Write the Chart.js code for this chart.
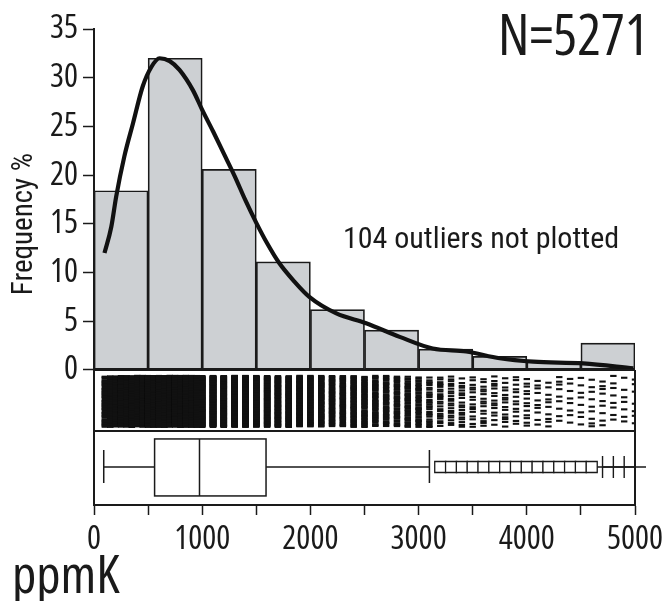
<!DOCTYPE html>
<html>
<head>
<meta charset="utf-8">
<script src="https://cdn.jsdelivr.net/npm/chart.js@4.4.1/dist/chart.umd.min.js"></script>
<style>
  html, body { margin: 0; padding: 0; background: #fff; }
  canvas { display: block; }
</style>
</head>
<body>
<canvas id="chart" width="669" height="601"></canvas>
<script>
// Histogram of K (ppm), 500 ppm bins, frequency in percent
const binCenters = [250, 750, 1250, 1750, 2250, 2750, 3250, 3750, 4250, 4750];
const binFreq = [18.4, 32.0, 20.6, 11.1, 6.2, 4.1, 2.15, 1.4, 0.85, 2.75];

// Density estimate drawn over the histogram
const densX = [97, 160, 205, 280, 360, 450, 530, 606, 700, 790, 915, 1000, 1100, 1200, 1300, 1400, 1500, 1600, 1710, 1850, 1990, 2240, 2515, 2825, 3130, 3440, 3750, 4060, 4520, 4985];
const densY = [12.0, 14.7, 17.8, 21.9, 25.3, 29.1, 31.1, 32.0, 31.7, 30.8, 28.7, 26.7, 24.5, 22.2, 19.9, 17.4, 15.1, 13.0, 11.0, 9.1, 7.5, 5.8, 4.8, 3.4, 2.2, 1.9, 1.2, 0.85, 0.68, 0.17];

// One-dimensional scatter: reported values and number of samples at each
const rugValues = [100, 150, 200, 250, 300, 350, 400, 450, 500,
  550, 600, 650, 700, 750, 800, 850, 900, 950, 1000,
  1100, 1200, 1300, 1400, 1500, 1600, 1700, 1800, 1900, 2000,
  2100, 2200, 2300, 2400, 2500, 2600, 2700, 2800, 2900, 3000,
  3100, 3200, 3300, 3400, 3500, 3600, 3700, 3800, 3900, 4000,
  4100, 4200, 4300, 4400, 4500, 4600, 4700, 4800, 4900, 5000];
const rugCounts = [50, 70, 85, 100, 110, 120, 130, 140, 165,
  175, 180, 180, 178, 175, 170, 165, 160, 155, 149,
  270, 240, 215, 195, 166, 150, 130, 115, 100, 90,
  80, 72, 63, 58, 54, 50, 46, 43, 40, 37,
  28, 24, 21, 19, 16, 16, 15, 15, 13, 13,
  10, 10, 9, 8, 8, 9, 9, 8, 7, 7];

// Boxplot statistics (ppm)
const boxStats = [90, 560, 975, 1590, 3100]; // lower whisker, Q1, median, Q3, upper whisker
const nearOutliers = [3200, 3300, 3400, 3500, 3600, 3700, 3800, 3900, 4000, 4100, 4200, 4300, 4400, 4500, 4600];
const farOutliers = [4700, 4800, 4900, 5000];

// Axis ticks
const xTickValues = [0, 500, 1000, 1500, 2000, 2500, 3000, 3500, 4000, 4500, 5000];
const yTickValues = [0, 5, 10, 15, 20, 25, 30, 35];

const FAMILY = '"Open Sans", "Roboto Condensed", sans-serif';
const LABEL_FAMILY = '"Roboto Condensed", "Open Sans", sans-serif';
const STRETCH = 'condensed';
const font = px => STRETCH + ' ' + px + 'px ' + FAMILY;
const labelFont = px => px + 'px ' + LABEL_FAMILY;
const INK = '#1a1a1a';

// vertical layout of the lower panels, in frequency units below zero
const Y_MIN = -13.86;
const RUG_TOP = -0.6, RUG_BOTTOM = -5.85, PANEL_DIVIDER = -6.26;
const BOX_TOP = -7.08, BOX_BOTTOM = -12.93, BOX_MID = -9.96, CAP_TOP = -8.21, CAP_BOTTOM = -11.6;

// rug marks: one dash per sample, spread over the strip height
const rugPoints = [];
rugValues.forEach((v, c) => {
  for (let k = 0; k < rugCounts[c]; k++) {
    const t = ((k + 0.5) * 0.6180339887 + c * 0.2718) % 1;
    rugPoints.push({ x: v, y: RUG_TOP + t * (RUG_BOTTOM - RUG_TOP) });
  }
});

const panels = {
  id: 'panels',
  beforeDatasetsDraw(chart) {
    const { ctx, scales: { x, y } } = chart;
    const px = v => x.getPixelForValue(v);
    const py = v => y.getPixelForValue(v);
    const [lo, q1, med, q3, hi] = boxStats;
    ctx.save();
    ctx.strokeStyle = INK;
    ctx.lineWidth = 1.5;
    // whiskers
    ctx.beginPath();
    ctx.moveTo(px(lo), py(BOX_MID)); ctx.lineTo(px(q1), py(BOX_MID));
    ctx.moveTo(px(q3), py(BOX_MID)); ctx.lineTo(px(hi), py(BOX_MID));
    ctx.moveTo(px(lo), py(CAP_TOP)); ctx.lineTo(px(lo), py(CAP_BOTTOM));
    ctx.moveTo(px(hi), py(CAP_TOP)); ctx.lineTo(px(hi), py(CAP_BOTTOM));
    ctx.stroke();
    // box and median
    ctx.fillStyle = '#fff';
    ctx.fillRect(px(q1), py(BOX_TOP), px(q3) - px(q1), py(BOX_BOTTOM) - py(BOX_TOP));
    ctx.strokeRect(px(q1), py(BOX_TOP), px(q3) - px(q1), py(BOX_BOTTOM) - py(BOX_TOP));
    ctx.beginPath();
    ctx.moveTo(px(med), py(BOX_TOP)); ctx.lineTo(px(med), py(BOX_BOTTOM));
    ctx.stroke();
    ctx.restore();
  },
  afterDatasetsDraw(chart) {
    const { ctx, scales: { x, y } } = chart;
    const l = x.getPixelForValue(0), r = x.getPixelForValue(5000);
    ctx.save();
    ctx.strokeStyle = INK;
    ctx.lineWidth = 2;
    ctx.beginPath();
    ctx.moveTo(l, y.getPixelForValue(0)); ctx.lineTo(r, y.getPixelForValue(0));
    ctx.moveTo(l, y.getPixelForValue(PANEL_DIVIDER)); ctx.lineTo(r, y.getPixelForValue(PANEL_DIVIDER));
    ctx.moveTo(r, y.getPixelForValue(0)); ctx.lineTo(r, y.getPixelForValue(Y_MIN));
    ctx.stroke();
    ctx.restore();
  },
  afterDraw(chart) {
    const { ctx } = chart;
    ctx.save();
    ctx.fillStyle = INK;
    ctx.textBaseline = 'alphabetic';
    ctx.textAlign = 'left';
    ctx.font = font(56);
    ctx.fillText('N=5271', 498, 55);
    ctx.font = labelFont(30);
    ctx.fillText('104 outliers not plotted', 343, 248);
    ctx.font = font(53);
    ctx.fillText('ppmK', 12, 593);
    ctx.translate(32, 224);
    ctx.rotate(-Math.PI / 2);
    ctx.textAlign = 'center';
    ctx.font = labelFont(29);
    ctx.fillText('Frequency %', 0, 0);
    ctx.restore();
  }
};

new Chart(document.getElementById('chart'), {
  type: 'bar',
  data: {
    datasets: [
      {
        type: 'line',
        data: densX.map((v, i) => ({ x: v, y: densY[i] })),
        borderColor: '#111',
        borderWidth: 4.2,
        pointRadius: 0,
        cubicInterpolationMode: 'monotone',
        fill: false,
        order: 0
      },
      {
        type: 'bar',
        data: binCenters.map((v, i) => ({ x: v, y: binFreq[i] })),
        backgroundColor: '#cdd0d3',
        borderColor: INK,
        borderWidth: 1.7,
        borderSkipped: false,
        barPercentage: 1,
        categoryPercentage: 1,
        grouped: false,
        order: 3
      },
      {
        type: 'scatter',
        data: rugPoints,
        pointStyle: 'line',
        pointRadius: 3.2,
        borderWidth: 2.1,
        borderColor: '#111',
        order: 1
      },
      {
        type: 'scatter',
        data: nearOutliers.map(v => ({ x: v, y: BOX_MID })),
        pointStyle: 'rect',
        pointRadius: 7.8,
        backgroundColor: '#fff',
        borderColor: INK,
        borderWidth: 1.3,
        order: 1
      },
      {
        type: 'scatter',
        data: farOutliers.map(v => ({ x: v, y: BOX_MID })),
        pointStyle: 'cross',
        pointRadius: 11,
        borderColor: INK,
        borderWidth: 1.4,
        clip: false,
        order: 1
      }
    ]
  },
  options: {
    responsive: false,
    animation: false,
    events: [],
    layout: { padding: { top: 29, right: 34, left: 0, bottom: 0 } },
    plugins: { legend: { display: false }, tooltip: { enabled: false } },
    scales: {
      x: {
        type: 'linear',
        min: 0,
        max: 5000,
        offset: false,
        afterFit: s => { s.height = 96; },
        afterBuildTicks: s => { s.ticks = xTickValues.map(v => ({ value: v })); },
        ticks: {
          autoSkip: false,
          maxRotation: 0,
          minRotation: 0,
          padding: 5,
          color: INK,
          font: { family: FAMILY, weight: STRETCH, size: 33 },
          callback: v => (v % 1000 === 0 ? String(v) : '')
        },
        grid: { display: true, offset: false, drawOnChartArea: false, drawTicks: true, tickLength: 10, tickWidth: 1.5, tickColor: INK },
        border: { display: true, color: INK, width: 2 }
      },
      y: {
        type: 'linear',
        min: Y_MIN,
        max: 35,
        afterFit: s => { s.width = 94; },
        afterBuildTicks: s => { s.ticks = yTickValues.map(v => ({ value: v })); },
        ticks: {
          padding: 5,
          color: INK,
          font: { family: FAMILY, weight: STRETCH, size: 33 },
          callback: v => String(v)
        },
        grid: { display: true, drawOnChartArea: false, drawTicks: true, tickLength: 11, tickWidth: 1.5, tickColor: INK },
        border: { display: true, color: INK, width: 2 }
      }
    }
  },
  plugins: [panels]
});
</script>
</body>
</html>
